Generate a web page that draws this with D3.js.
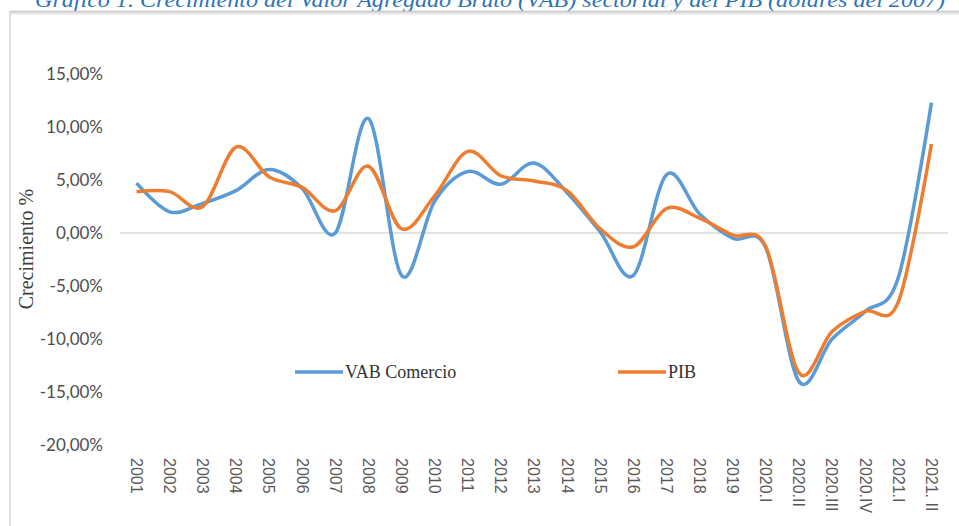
<!DOCTYPE html>
<html>
<head>
<meta charset="utf-8">
<script src="https://cdn.jsdelivr.net/npm/d3@7"></script>
<style>
  body { margin: 0; background: #fff; }
  svg { display: block; }
  .tick-y { font-family: Lato, sans-serif; font-size: 17px; fill: #4d4d4d; }
  .tick-x { font-family: "Liberation Sans", Arial, sans-serif; font-size: 16px; fill: #595959; }
  .legend { font-family: "Liberation Serif", serif; font-size: 18px; fill: #333; }
</style>
</head>
<body>
<div id="chart"></div>
<script>
var categories = ["2001", "2002", "2003", "2004", "2005", "2006", "2007", "2008", "2009", "2010",
    "2011", "2012", "2013", "2014", "2015", "2016", "2017", "2018", "2019",
    "2020.I", "2020.II", "2020.III", "2020.IV", "2021.I", "2021. II"];

var vabComercio = [4.7, 2.0, 2.8, 4.0, 6.0, 4.2, 0.0, 10.8, -4.0, 3.0,
    5.8, 4.6, 6.6, 3.8, 0.1, -4.0, 5.5, 1.8, -0.5, -1.4,
    -14.0, -10.0, -7.4, -4.2, 12.3];

var pib = [3.9, 3.9, 2.5, 8.1, 5.3, 4.3, 2.1, 6.3, 0.4, 3.5,
    7.7, 5.4, 4.9, 4.0, 0.4, -1.3, 2.3, 1.4, -0.2, -1.3,
    -13.2, -9.3, -7.4, -6.5, 8.4];

var yTicks = [15, 10, 5, 0, -5, -10, -15, -20];

var series = [
    { name: "VAB Comercio", values: vabComercio, color: "#5b9bd5" },
    { name: "PIB", values: pib, color: "#ed7d31" }
];

var width = 959, height = 526;

var svg = d3.select("#chart").append("svg")
    .attr("width", width)
    .attr("height", height);

// titulo (cortado arriba, como en la imagen)
svg.append("text")
    .attr("x", 35)
    .attr("y", 7)
    .attr("textLength", 910)
    .attr("lengthAdjust", "spacingAndGlyphs")
    .style("font-family", "'Liberation Serif', serif")
    .style("font-style", "italic")
    .style("font-size", "22px")
    .style("fill", "#2e74b5")
    .text("Gráfico 1. Crecimiento del Valor Agregado Bruto (VAB) sectorial y del PIB (dólares del 2007)");

// marco
svg.append("line").attr("x1", 10).attr("x2", width).attr("y1", 13).attr("y2", 13)
    .style("stroke", "#e6e6e6").style("stroke-width", 3);
svg.append("line").attr("x1", 10).attr("x2", width).attr("y1", 11.5).attr("y2", 11.5)
    .style("stroke", "#c9c9c9").style("stroke-width", 1.5);
svg.append("line").attr("x1", 10).attr("x2", 10).attr("y1", 11).attr("y2", height)
    .style("stroke", "#d4d4d4").style("stroke-width", 1.5);

var xScale = d3.scalePoint()
    .domain(categories)
    .range([120, 948])
    .padding(0.5);

var yScale = d3.scaleLinear()
    .domain([-20, 15])
    .range([445, 74]);

// eje Y
svg.append("g")
    .selectAll("text")
    .data(yTicks)
    .enter().append("text")
    .attr("class", "tick-y")
    .attr("x", 103)
    .attr("y", function (d) { return yScale(d); })
    .attr("dy", "0.35em")
    .style("text-anchor", "end")
    .text(function (d) { return (d < 0 ? "-" : "") + Math.abs(d).toFixed(2).replace(".", ",") + "%"; });

// linea cero
svg.append("line")
    .attr("x1", 120).attr("x2", 948)
    .attr("y1", yScale(0)).attr("y2", yScale(0))
    .style("stroke", "#d9d9d9")
    .style("stroke-width", 1.5);

// eje X
svg.append("g")
    .selectAll("text")
    .data(categories)
    .enter().append("text")
    .attr("class", "tick-x")
    .attr("transform", function (d) { return "translate(" + xScale(d) + ",458) rotate(90)"; })
    .attr("dy", "0.35em")
    .style("text-anchor", "start")
    .text(function (d) { return d; });

// titulo eje Y
svg.append("text")
    .attr("transform", "translate(33,249) rotate(-90)")
    .style("text-anchor", "middle")
    .style("font-family", "'Liberation Serif', serif")
    .style("font-size", "20px")
    .style("fill", "#404040")
    .text("Crecimiento %");

var line = d3.line()
    .x(function (d, i) { return xScale(categories[i]); })
    .y(function (d) { return yScale(d); })
    .curve(d3.curveCatmullRom.alpha(0));

series.forEach(function (s) {
    svg.append("path")
        .datum(s.values)
        .attr("d", line)
        .style("fill", "none")
        .style("stroke", s.color)
        .style("stroke-width", 3.5)
        .style("stroke-linejoin", "round");
});

// leyenda
var legendX = [295, 618];
series.forEach(function (s, i) {
    var g = svg.append("g").attr("transform", "translate(" + legendX[i] + ",372)");
    g.append("line").attr("x1", 0).attr("x2", 48).attr("y1", 0).attr("y2", 0)
        .style("stroke", s.color).style("stroke-width", 3.5);
    g.append("text").attr("class", "legend")
        .attr("x", 50).attr("dy", "0.35em")
        .text(s.name);
});
</script>
</body>
</html>
